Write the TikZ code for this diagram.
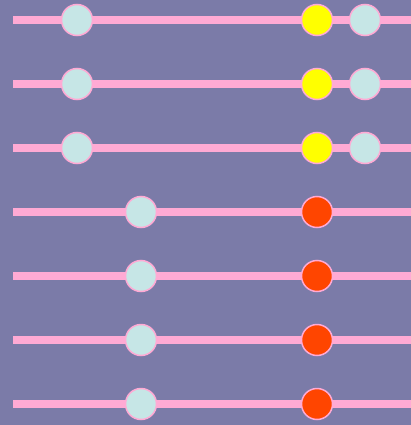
\documentclass[tikz,border=0pt]{standalone}
\definecolor{bg}{HTML}{7B7BA8}
\definecolor{pinkline}{HTML}{FFAAD4}
\definecolor{pale}{HTML}{C6E6E6}
\definecolor{yel}{HTML}{FFFF00}
\definecolor{ored}{HTML}{FF4500}
\begin{document}
\begin{tikzpicture}[x=1pt,y=-1pt,
  rail/.style={draw=pinkline,line width=8pt},
  bead/.style={circle,draw=pinkline,line width=1.5pt,minimum size=31pt,inner sep=0pt}]
\fill[bg] (0,0) rectangle (411,425);
\useasboundingbox (0,0) rectangle (411,425);
\foreach \i in {0,...,6}{
  \coordinate (s\i) at (13,{20+64*\i});
  \coordinate (e\i) at (411,{20+64*\i});
  \draw[rail] (s\i) -- (e\i);
}
\foreach \i in {0,1,2}{
  \node[bead,fill=pale] (a\i) at (77,{20+64*\i}) {};
  \node[bead,fill=yel] (b\i) at (317,{20+64*\i}) {};
  \node[bead,fill=pale] (c\i) at (365,{20+64*\i}) {};
}
\foreach \i in {3,4,5,6}{
  \node[bead,fill=pale] (a\i) at (141,{20+64*\i}) {};
  \node[bead,fill=ored] (b\i) at (317,{20+64*\i}) {};
}
\end{tikzpicture}
\end{document}
